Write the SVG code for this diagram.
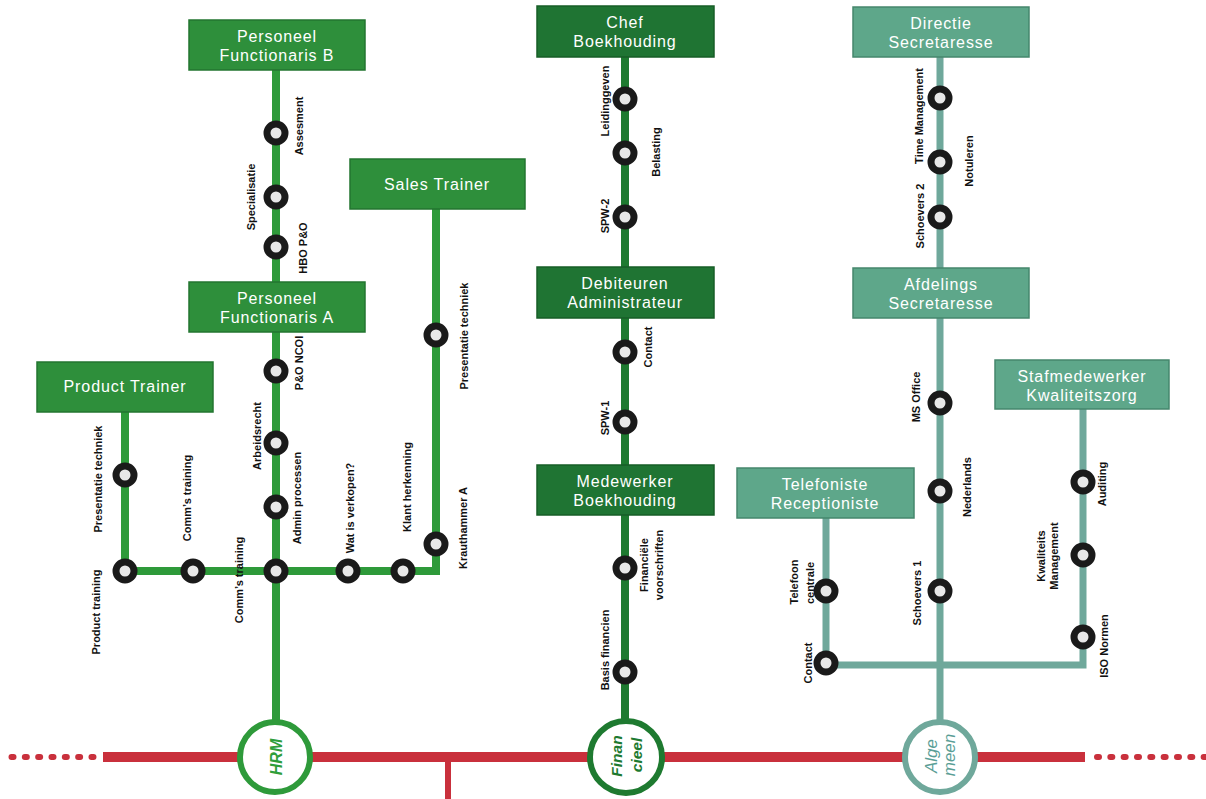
<svg xmlns="http://www.w3.org/2000/svg" width="1206" height="799" viewBox="0 0 1206 799">
<style>
.bg{fill:#ffffff}
.hrm{stroke:#2e9a3a;stroke-width:8;fill:none;stroke-linejoin:miter}
.fin{stroke:#1e7a30;stroke-width:8;fill:none}
.alg{stroke:#6fa89b;stroke-width:7;fill:none;stroke-linejoin:miter}
.boxh{fill:#2e8f3b;stroke:#237530;stroke-width:1.5}
.boxf{fill:#1f7433;stroke:#175d27;stroke-width:1.5}
.boxa{fill:#5ea78a;stroke:#45876c;stroke-width:1.5}
.bt{font-family:"Liberation Sans",Arial,sans-serif;font-size:16px;fill:#ffffff;text-anchor:middle;letter-spacing:0.9px}
.st{fill:#e8e8e8;stroke:#1a1a1a;stroke-width:7}
.lb{font-family:"Liberation Sans",Arial,sans-serif;font-size:11px;font-weight:bold;fill:#111111;text-anchor:middle}
.red{stroke:#c9303c;fill:none}
.ct{font-family:"Liberation Sans",Arial,sans-serif;text-anchor:middle;font-style:italic}
</style>
<rect class="bg" x="0" y="0" width="1206" height="799"/>

<g id="connectors">
  <!-- red main line -->
  <line class="red" x1="11.5" y1="757" x2="97" y2="757" stroke-width="6" stroke-dasharray="2 11.33" stroke-linecap="round"/>
  <line class="red" x1="103" y1="757" x2="1085" y2="757" stroke-width="10"/>
  <line class="red" x1="1097" y1="757" x2="1206" y2="757" stroke-width="6" stroke-dasharray="2 11.33" stroke-linecap="round"/>
  <line class="red" x1="448" y1="757" x2="448" y2="799" stroke-width="6"/>
  <!-- HRM -->
  <line class="hrm" x1="276" y1="70" x2="276" y2="722"/>
  <polyline class="hrm" points="125,412 125,571 436,571 436,209"/>
  <!-- Financieel -->
  <line class="fin" x1="625" y1="57" x2="625" y2="720"/>
  <!-- Algemeen -->
  <line class="alg" x1="940" y1="57" x2="940" y2="721"/>
  <polyline class="alg" points="826,518 826,665 1083,665 1083,409"/>
</g>

<g id="hub-hrm">
  <circle cx="275" cy="757" r="35" fill="#ffffff" stroke="#2e9a3a" stroke-width="6"/>
  <text class="ct" transform="translate(282,757) rotate(-90)" font-size="16" font-weight="bold" fill="#2f9e3a">HRM</text>
</g>
<g id="hub-financieel">
  <circle cx="626" cy="757" r="36" fill="#ffffff" stroke="#1e7a30" stroke-width="6"/>
  <text class="ct" transform="translate(622,756) rotate(-90)" font-size="15.5" font-weight="bold" fill="#1e7a30">Finan</text>
  <text class="ct" transform="translate(642,755) rotate(-90)" font-size="15.5" font-weight="bold" fill="#1e7a30">cieel</text>
</g>
<g id="hub-algemeen">
  <circle cx="940" cy="757" r="35" fill="#ffffff" stroke="#6fa89b" stroke-width="6"/>
  <text class="ct" transform="translate(937,756) rotate(-90)" font-size="17" fill="#5a9e96">Alge</text>
  <text class="ct" transform="translate(955,755) rotate(-90)" font-size="17" fill="#5a9e96">meen</text>
</g>

<!-- HRM boxes -->
<g id="personeel-b">
  <rect class="boxh" x="189" y="20" width="176" height="50"/>
  <text class="bt" x="277" y="42">Personeel</text>
  <text class="bt" x="277" y="61">Functionaris B</text>
</g>
<g id="personeel-a">
  <rect class="boxh" x="189" y="282" width="176" height="50"/>
  <text class="bt" x="277" y="304">Personeel</text>
  <text class="bt" x="277" y="323">Functionaris A</text>
</g>
<g id="sales-trainer">
  <rect class="boxh" x="350" y="159" width="175" height="50"/>
  <text class="bt" x="437" y="190">Sales Trainer</text>
</g>
<g id="product-trainer">
  <rect class="boxh" x="37" y="362" width="176" height="50"/>
  <text class="bt" x="125" y="392">Product Trainer</text>
</g>

<!-- Financieel boxes -->
<g id="chef-boekhouding">
  <rect class="boxf" x="537" y="6" width="177" height="51"/>
  <text class="bt" x="625" y="28">Chef</text>
  <text class="bt" x="625" y="47">Boekhouding</text>
</g>
<g id="debiteuren">
  <rect class="boxf" x="537" y="267" width="177" height="51"/>
  <text class="bt" x="625" y="289">Debiteuren</text>
  <text class="bt" x="625" y="308">Administrateur</text>
</g>
<g id="medewerker-boekhouding">
  <rect class="boxf" x="537" y="465" width="177" height="50"/>
  <text class="bt" x="625" y="487">Medewerker</text>
  <text class="bt" x="625" y="506">Boekhouding</text>
</g>

<!-- Algemeen boxes -->
<g id="directie-secretaresse">
  <rect class="boxa" x="853" y="7" width="176" height="50"/>
  <text class="bt" x="941" y="29">Directie</text>
  <text class="bt" x="941" y="48">Secretaresse</text>
</g>
<g id="afdelings-secretaresse">
  <rect class="boxa" x="853" y="268" width="176" height="50"/>
  <text class="bt" x="941" y="290">Afdelings</text>
  <text class="bt" x="941" y="309">Secretaresse</text>
</g>
<g id="telefoniste">
  <rect class="boxa" x="737" y="468" width="177" height="50"/>
  <text class="bt" x="825" y="490">Telefoniste</text>
  <text class="bt" x="825" y="509">Receptioniste</text>
</g>
<g id="stafmedewerker">
  <rect class="boxa" x="995" y="360" width="174" height="49"/>
  <text class="bt" x="1082" y="382">Stafmedewerker</text>
  <text class="bt" x="1082" y="401">Kwaliteitszorg</text>
</g>

<!-- HRM stations -->
<g id="st-assesment"><circle class="st" cx="276" cy="133" r="9"/><text class="lb" transform="translate(303,126) rotate(-90)">Assesment</text></g>
<g id="st-specialisatie"><circle class="st" cx="276" cy="197" r="9"/><text class="lb" transform="translate(255,197) rotate(-90)">Specialisatie</text></g>
<g id="st-hbo"><circle class="st" cx="276" cy="247" r="9"/><text class="lb" transform="translate(307,248) rotate(-90)">HBO P&amp;O</text></g>
<g id="st-pono"><circle class="st" cx="276" cy="371" r="9"/><text class="lb" transform="translate(303,363) rotate(-90)">P&amp;O NCOI</text></g>
<g id="st-arbeidsrecht"><circle class="st" cx="276" cy="443" r="9"/><text class="lb" transform="translate(261,436) rotate(-90)">Arbeidsrecht</text></g>
<g id="st-admin"><circle class="st" cx="276" cy="507" r="9"/><text class="lb" transform="translate(301,498) rotate(-90)">Admin processen</text></g>
<g id="st-comms-b"><circle class="st" cx="276" cy="571" r="9"/><text class="lb" transform="translate(243,580) rotate(-90)">Comm’s training</text></g>
<g id="st-pres-p"><circle class="st" cx="125" cy="475" r="9"/><text class="lb" transform="translate(102,479) rotate(-90)">Presentatie techniek</text></g>
<g id="st-product"><circle class="st" cx="125" cy="571" r="9"/><text class="lb" transform="translate(100,612) rotate(-90)">Product training</text></g>
<g id="st-comms-a"><circle class="st" cx="193" cy="571" r="9"/><text class="lb" transform="translate(191,498) rotate(-90)">Comm’s training</text></g>
<g id="st-wat"><circle class="st" cx="348" cy="571" r="9"/><text class="lb" transform="translate(354,508) rotate(-90)">Wat is verkopen?</text></g>
<g id="st-klant"><circle class="st" cx="403" cy="571" r="9"/><text class="lb" transform="translate(411,487) rotate(-90)">Klant herkenning</text></g>
<g id="st-kraut"><circle class="st" cx="436" cy="544" r="9"/><text class="lb" transform="translate(467,528) rotate(-90)">Krauthammer A</text></g>
<g id="st-pres-s"><circle class="st" cx="436" cy="335" r="9"/><text class="lb" transform="translate(468,336) rotate(-90)">Presentatie techniek</text></g>

<!-- Financieel stations -->
<g id="st-leiding"><circle class="st" cx="625" cy="99" r="9"/><text class="lb" transform="translate(609,101) rotate(-90)">Leidinggeven</text></g>
<g id="st-belasting"><circle class="st" cx="625" cy="153" r="9"/><text class="lb" transform="translate(660,152) rotate(-90)">Belasting</text></g>
<g id="st-spw2"><circle class="st" cx="625" cy="217" r="9"/><text class="lb" transform="translate(609,216) rotate(-90)">SPW-2</text></g>
<g id="st-contact-f"><circle class="st" cx="625" cy="352" r="9"/><text class="lb" transform="translate(652,347) rotate(-90)">Contact</text></g>
<g id="st-spw1"><circle class="st" cx="625" cy="422" r="9"/><text class="lb" transform="translate(609,418) rotate(-90)">SPW-1</text></g>
<g id="st-finvoor"><circle class="st" cx="625" cy="568" r="9"/><text class="lb" transform="translate(648,565) rotate(-90)">Financiële</text><text class="lb" transform="translate(663,565) rotate(-90)">voorschriften</text></g>
<g id="st-basis"><circle class="st" cx="625" cy="672" r="9"/><text class="lb" transform="translate(609,650) rotate(-90)">Basis financien</text></g>

<!-- Algemeen stations -->
<g id="st-time"><circle class="st" cx="940" cy="98" r="9"/><text class="lb" transform="translate(923,116) rotate(-90)">Time Management</text></g>
<g id="st-notuleren"><circle class="st" cx="940" cy="162" r="9"/><text class="lb" transform="translate(973,161) rotate(-90)">Notuleren</text></g>
<g id="st-schoevers2"><circle class="st" cx="940" cy="217" r="9"/><text class="lb" transform="translate(924,216) rotate(-90)">Schoevers 2</text></g>
<g id="st-msoffice"><circle class="st" cx="940" cy="403" r="9"/><text class="lb" transform="translate(920,397) rotate(-90)">MS Office</text></g>
<g id="st-nederlands"><circle class="st" cx="940" cy="491" r="9"/><text class="lb" transform="translate(971,487) rotate(-90)">Nederlands</text></g>
<g id="st-schoevers1"><circle class="st" cx="940" cy="591" r="9"/><text class="lb" transform="translate(921,593) rotate(-90)">Schoevers 1</text></g>
<g id="st-telefoon"><circle class="st" cx="826" cy="591" r="9"/><text class="lb" transform="translate(798,582) rotate(-90)">Telefoon</text><text class="lb" transform="translate(814,583) rotate(-90)">centrale</text></g>
<g id="st-contact-a"><circle class="st" cx="826" cy="663" r="9"/><text class="lb" transform="translate(812,663) rotate(-90)">Contact</text></g>
<g id="st-auditing"><circle class="st" cx="1083" cy="482" r="9"/><text class="lb" transform="translate(1106,484) rotate(-90)">Auditing</text></g>
<g id="st-kwaliteit"><circle class="st" cx="1083" cy="555" r="9"/><text class="lb" transform="translate(1045,556) rotate(-90)">Kwaliteits</text><text class="lb" transform="translate(1058,556) rotate(-90)">Management</text></g>
<g id="st-iso"><circle class="st" cx="1083" cy="637" r="9"/><text class="lb" transform="translate(1108,646) rotate(-90)">ISO Normen</text></g>
</svg>
